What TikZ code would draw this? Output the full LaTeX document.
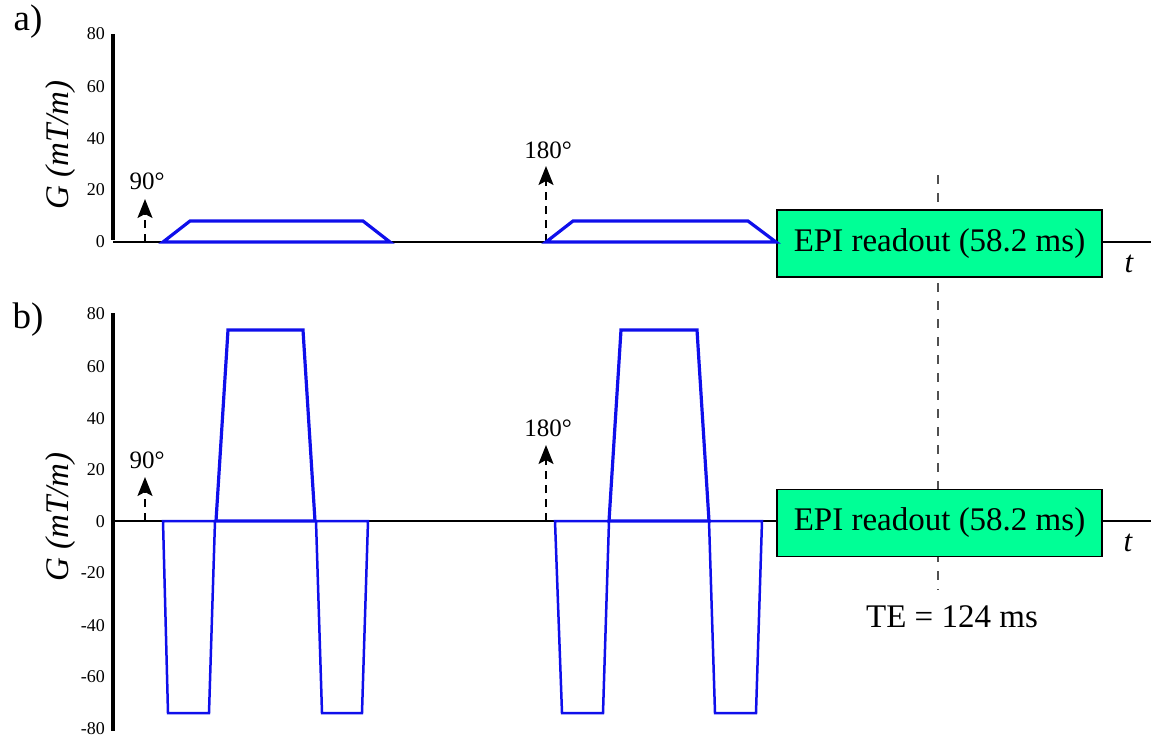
\documentclass[tikz,border=0pt]{standalone}
\usepackage{fontspec}
\setmainfont{Liberation Serif}
\usetikzlibrary{arrows.meta}
\definecolor{wavecol}{RGB}{15,15,235}
\definecolor{epicol}{RGB}{0,255,150}
\definecolor{tecol}{RGB}{80,80,80}
\begin{document}
\begin{tikzpicture}[x=1pt,y=-1pt,
  axisline/.style={line width=3.6pt,black},
  tline/.style={line width=2.8pt,black},
  wavethick/.style={draw=wavecol,line width=3.2pt,line join=miter},
  wavethin/.style={draw=wavecol,line width=2.5pt,line join=miter},
  rfarrow/.style={line width=1.6pt,dash pattern=on 8pt off 6pt,-{Stealth[length=19pt,width=15pt,inset=4pt]}},
  ticklab/.style={anchor=east,inner sep=0pt,font=\fontsize{18}{18}\selectfont},
  rflab/.style={inner sep=0pt,font=\fontsize{25}{25}\selectfont},
  ylab/.style={rotate=90,inner sep=0pt,font=\fontsize{33}{33}\selectfont\itshape},
  panellab/.style={inner sep=0pt,font=\fontsize{37}{37}\selectfont},
  epibox/.style={draw=black,line width=1.8pt,fill=epicol,minimum width=325pt,minimum height=67pt,inner sep=0pt,font=\fontsize{33}{33}\selectfont},
  tlab/.style={inner sep=0pt,font=\fontsize{31}{31}\selectfont\itshape},
  telab/.style={inner sep=0pt,font=\fontsize{33}{33}\selectfont}]
\useasboundingbox (0,0) rectangle (1151,740);

% TE dashed line (behind boxes)
\coordinate (teTop) at (938,175);
\coordinate (teBot) at (938,590);
\draw[tecol,line width=1.3pt,dash pattern=on 9pt off 9pt] (teTop) -- (teBot);

% ---------------- panel a ----------------
\node[panellab] (la) at (28,22) {a)};
\coordinate (aTop) at (113,34);
\coordinate (aOrig) at (113,242);
\coordinate (aEnd) at (1151,242);
\draw[axisline] (aTop) -- ([yshift=1.8pt]aOrig);
\node[epibox] (epiA) at (939.5,243.5) {EPI readout (58.2 ms)};
\draw[tline] (aOrig) -- (aOrig -| epiA.west);
\draw[tline] (aOrig -| epiA.east) -- (aEnd);
\node[tlab] (tA) at (1129,264) {t};
\node[ticklab] (a80) at (105,34) {80};
\node[ticklab] (a60) at (105,87) {60};
\node[ticklab] (a40) at (105,139) {40};
\node[ticklab] (a20) at (105,190) {20};
\node[ticklab] (a0) at (105,242) {0};
\node[ylab] (yA) at (61,145) {G (mT/m)};

\coordinate (a90b) at (145,242);
\coordinate (a90t) at (145,199);
\draw[rfarrow] (a90b) -- (a90t);
\node[rflab] (a90l) at (147,181) {90°};
\coordinate (a180b) at (546,242);
\coordinate (a180t) at (546,166);
\draw[rfarrow] (a180b) -- (a180t);
\node[rflab] (a180l) at (548,150) {180°};

\draw[wavethick] (163,242) -- (190,221) -- (363,221) -- (390,242) -- cycle;
\draw[wavethick] (546,242) -- (573,221) -- (748,221) -- (776,242) -- cycle;

% ---------------- panel b ----------------
\node[panellab] (lb) at (28,320) {b)};
\coordinate (bTop) at (113,313);
\coordinate (bBot) at (113,731);
\coordinate (bOrig) at (113,521);
\coordinate (bEnd) at (1151,521);
\draw[axisline] (bTop) -- (bBot);
\node[epibox] (epiB) at (939.5,523) {EPI readout (58.2 ms)};
\draw[tline] (bOrig) -- (bOrig -| epiB.west);
\draw[tline] (bOrig -| epiB.east) -- (bEnd);
\node[tlab] (tB) at (1128,543) {t};
\node[ticklab] (b80) at (105,314) {80};
\node[ticklab] (b60) at (105,367) {60};
\node[ticklab] (b40) at (105,419) {40};
\node[ticklab] (b20) at (105,470) {20};
\node[ticklab] (b0) at (105,522) {0};
\node[ticklab] (bm20) at (105,573) {-20};
\node[ticklab] (bm40) at (105,626) {-40};
\node[ticklab] (bm60) at (105,677) {-60};
\node[ticklab] (bm80) at (105,729) {-80};
\node[ylab] (yB) at (61,517) {G (mT/m)};

\coordinate (b90b) at (145,521);
\coordinate (b90t) at (145,477);
\draw[rfarrow] (b90b) -- (b90t);
\node[rflab] (b90l) at (147,460) {90°};
\coordinate (b180b) at (546,521);
\coordinate (b180t) at (546,445);
\draw[rfarrow] (b180b) -- (b180t);
\node[rflab] (b180l) at (548,428) {180°};

\draw[wavethin] (163,521) -- (168,713) -- (209,713) -- (215,521) -- cycle;
\draw[wavethick] (216,521) -- (228,330) -- (303,330) -- (315,521) -- cycle;
\draw[wavethin] (316,521) -- (322,713) -- (362,713) -- (368,521) -- cycle;
\draw[wavethin] (555,521) -- (562,713) -- (603,713) -- (609,521) -- cycle;
\draw[wavethick] (609,521) -- (621,330) -- (697,330) -- (709,521) -- cycle;
\draw[wavethin] (709,521) -- (715,713) -- (756,713) -- (762,521) -- cycle;

\node[telab] (te) at (952,617) {TE = 124 ms};
\end{tikzpicture}
\end{document}
